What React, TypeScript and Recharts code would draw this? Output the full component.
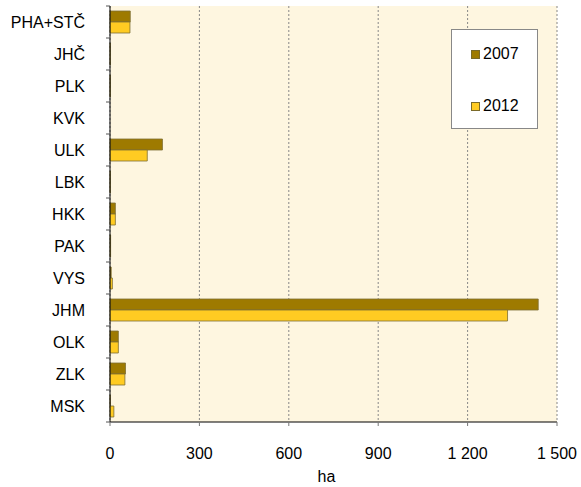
import React from "react";
import {
  BarChart,
  Bar,
  XAxis,
  YAxis,
  CartesianGrid,
} from "recharts";

const regions = ["PHA+STČ", "JHČ", "PLK", "KVK", "ULK", "LBK", "HKK", "PAK", "VYS", "JHM", "OLK", "ZLK", "MSK"];
const ha2007 = [68, 1, 1, 0, 176, 1, 18, 2, 4, 1437, 28, 52, 1];
const ha2012 = [67, 1, 1, 0, 125, 1, 18, 2, 8, 1334, 28, 50, 13];
const xTicks = [0, 300, 600, 900, 1200, 1500];

const series = [
  { key: "y2007", name: "2007", color: "#9E7A00" },
  { key: "y2012", name: "2012", color: "#FFCB22" },
];

const data = regions.map((r, i) => ({ region: r, y2007: ha2007[i], y2012: ha2012[i] }));

const FONT = "Arial, 'Liberation Sans', sans-serif";
const HALF_BAND = 16;

const fmt = (v: number) => (v >= 1000 ? `${Math.floor(v / 1000)} ${String(v % 1000).padStart(3, "0")}` : String(v));

const RegionTick = (props: any) => {
  const { x, y, payload, index } = props;
  const lx = x + 21;
  return (
    <g>
      <text x={x} y={y} dy="0.36em" textAnchor="end" fill="#000" fontSize={16} fontFamily={FONT}>
        {payload.value}
      </text>
      {index === 0 && <line x1={lx} x2={lx + 4} y1={y - HALF_BAND} y2={y - HALF_BAND} stroke="#555" />}
      <line x1={lx} x2={lx + 4} y1={y + HALF_BAND} y2={y + HALF_BAND} stroke="#555" />
    </g>
  );
};

// legend drawn as an overlay so it doesn't eat plot space
const LegendBox = () => (
  <div
    style={{
      position: "absolute",
      left: 451,
      top: 29,
      width: 87,
      height: 100,
      background: "#fff",
      border: "1px solid #888",
      boxSizing: "border-box",
      fontFamily: FONT,
      fontSize: 16,
    }}
  >
    {series.map((s, i) => (
      <div
        key={s.key}
        style={{ position: "absolute", left: 19, top: 15 + i * 52, display: "flex", alignItems: "center", lineHeight: "18px" }}
      >
        <span style={{ width: 7, height: 7, background: s.color, border: "1px solid #7a6a2a", marginRight: 3 }} />
        <span>{s.name}</span>
      </div>
    ))}
  </div>
);

export default function App() {
  return (
    <div style={{ width: 581, height: 487, background: "#fff", position: "relative" }}>
      <style>{`body{margin:0}`}</style>
      <BarChart
        width={581}
        height={487}
        data={data}
        layout="vertical"
        margin={{ top: 6, right: 24, left: 0, bottom: 0 }}
        barCategoryGap={4}
        barGap={0}
      >
        <CartesianGrid
          horizontal={false}
          stroke="#888"
          strokeDasharray="2 2"
          fill="#FEF6E0"
          fillOpacity={1}
        />
        <XAxis
          type="number"
          domain={[0, 1500]}
          ticks={xTicks}
          tickFormatter={fmt}
          height={65}
          tickSize={4}
          tickMargin={22}
          axisLine={{ stroke: "#000" }}
          tickLine={{ stroke: "#777" }}
          tick={{ fill: "#000", fontSize: 16, fontFamily: FONT }}
          interval={0}
          label={{ value: "ha", position: "insideBottom", offset: 5, dx: -7, fill: "#000", fontSize: 16, fontFamily: FONT }}
        />
        <YAxis
          type="category"
          dataKey="region"
          width={110}
          tickSize={4}
          tickMargin={21}
          tickLine={false}
          axisLine={{ stroke: "#000" }}
          tick={<RegionTick />}
          interval={0}
        />
        {series.map((s) => (
          <Bar
            key={s.key}
            dataKey={s.key}
            name={s.name}
            fill={s.color}
            stroke="#7d6f33"
            strokeWidth={0.8}
            barSize={11}
            isAnimationActive={false}
          />
        ))}
      </BarChart>
      <LegendBox />
    </div>
  );
}
